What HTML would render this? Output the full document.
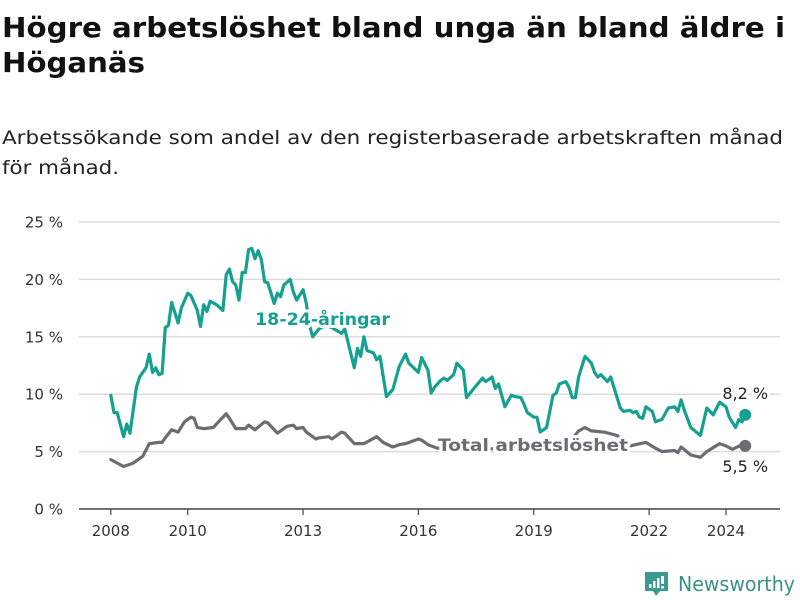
<!DOCTYPE html>
<html><head><meta charset="utf-8"><style>
html,body{margin:0;padding:0;background:#fff;}
svg{display:block;font-family:"DejaVu Sans","Liberation Sans",sans-serif;}
.lbl{paint-order:stroke;stroke:#fff;stroke-width:6px;stroke-linejoin:round;}
</style></head><body>
<svg id="chart" width="800" height="600" viewBox="0 0 800 600">
<text x="2" y="37" font-size="28" font-weight="bold" fill="#111" textLength="783" lengthAdjust="spacingAndGlyphs">Högre arbetslöshet bland unga än bland äldre i</text>
<text x="2" y="72" font-size="28" font-weight="bold" fill="#111" textLength="143" lengthAdjust="spacingAndGlyphs">Höganäs</text>
<text x="2" y="144" font-size="19" fill="#222" textLength="781" lengthAdjust="spacingAndGlyphs">Arbetssökande som andel av den registerbaserade arbetskraften månad</text>
<text x="2" y="174" font-size="19" fill="#222" textLength="117" lengthAdjust="spacingAndGlyphs">för månad.</text>
<g id="grid"></g>
<g id="yticks"></g>
<g id="xticks"></g>
<g id="series"></g>
<g id="labels"></g>
<g>
<path d="M645,572 h23 v19 h-8 l-4,5 l-3,-5 h-8 z" fill="#3a9a8f"/>
<rect x="649" y="584" width="2.5" height="4" fill="#fff"/>
<rect x="653" y="581" width="2.5" height="7" fill="#fff"/>
<rect x="657" y="578" width="2.5" height="10" fill="#fff"/>
<rect x="661" y="576" width="3" height="8" fill="#fff"/>
<rect x="661" y="586" width="3" height="2.5" fill="#fff"/>
<text x="678" y="591" font-size="20" fill="#3a8f86" textLength="117" lengthAdjust="spacingAndGlyphs">Newsworthy</text>
</g>
</svg>
<script>
const yTicks = [0, 5, 10, 15, 20, 25];
const xTickYears = [2008, 2010, 2013, 2016, 2019, 2022, 2024];
// month index from Jan 2008
const youthMonths = [0,1,2,4,5,6,8,9,11,12,13,14,15,16,17,18,19,20,21,22,24,25,27,28,29,30,31,33,35,36,37,38,39,40,41,42,43,44,45,46,47,48,49,51,52,53,54,56,57,58,60,61,62,63,65,67,69,72,73,76,77,78,79,80,82,83,84,86,88,90,92,93,96,97,99,100,101,103,104,105,107,108,110,111,113,116,117,119,120,121,123,125,126,128,129,130,132,133,134,136,138,139,140,142,143,144,145,146,148,150,151,152,153,155,156,159,160,162,163,164,165,166,167,169,170,172,174,176,177,178,179,181,184,186,188,190,192,193,195,196,197,198];
const youthValues = [9.9,8.4,8.4,6.3,7.4,6.6,10.6,11.5,12.3,13.5,11.9,12.3,11.7,11.8,15.8,16.0,18.0,17.1,16.2,17.5,18.8,18.6,17.3,15.9,17.8,17.2,18.1,17.8,17.3,20.4,20.9,19.8,19.5,18.2,20.6,20.6,22.6,22.7,21.8,22.5,21.7,19.8,19.7,17.9,18.8,18.5,19.5,20.0,18.9,18.2,19.1,17.9,16.0,15.0,15.7,16.0,15.8,15.3,15.7,12.3,14.0,13.3,15.0,13.8,13.6,13.0,13.3,9.8,10.4,12.4,13.5,12.7,11.9,13.2,12.1,10.1,10.6,11.2,11.4,11.2,11.7,12.7,12.1,9.7,10.4,11.4,11.1,11.5,10.5,10.9,8.9,9.9,9.8,9.7,9.1,8.4,8.0,8.0,6.7,7.1,9.9,10.1,10.9,11.1,10.6,9.7,9.7,11.5,13.3,12.7,11.9,11.5,11.7,11.1,11.5,8.8,8.5,8.6,8.4,8.5,8.0,7.9,8.9,8.5,7.6,7.8,8.8,8.9,8.5,9.5,8.6,7.1,6.4,8.8,8.2,9.3,8.9,8.0,7.1,7.8,7.6,8.2];
const totalMonths = [0,4,7,10,12,15,16,17,19,21,23,25,26,27,29,32,33,36,37,39,42,43,45,48,49,52,54,55,57,58,60,61,64,65,68,69,72,73,76,79,83,85,88,90,92,96,97,99,102,106,110,116,122,128,134,140,144,146,148,150,154,158,160,162,167,170,172,176,177,178,181,184,186,190,192,194,197,198];
const totalValues = [4.3,3.7,4.0,4.6,5.7,5.8,5.8,6.2,6.9,6.7,7.6,8.0,7.9,7.1,7.0,7.1,7.4,8.3,7.9,7.0,7.0,7.3,6.9,7.6,7.5,6.6,7.0,7.2,7.3,7.0,7.1,6.7,6.1,6.2,6.3,6.1,6.7,6.6,5.7,5.7,6.3,5.8,5.4,5.6,5.7,6.1,6.0,5.6,5.3,5.3,5.5,5.2,5.3,5.1,5.3,5.5,6.1,6.8,7.1,6.8,6.7,6.4,6.0,5.5,5.8,5.3,5.0,5.1,4.9,5.4,4.7,4.5,5.0,5.7,5.5,5.2,5.6,5.5];

const NS = 'http://www.w3.org/2000/svg';
const X0 = 110.8, PX_PER_MONTH = 38.45 / 12;
const Y0 = 509, PX_PER_PCT = 11.48;
function xScale(m){ return X0 + m * PX_PER_MONTH; }
function xYear(y){ return xScale((y - 2008) * 12); }
function yScale(v){ return Y0 - v * PX_PER_PCT; }
function mk(tag, attrs, parent){ const e = document.createElementNS(NS, tag); for (const k in attrs) e.setAttribute(k, attrs[k]); parent.appendChild(e); return e; }
function fmt(v){ return v.toFixed(1).replace('.', ','); }

const grid = document.getElementById('grid'), yt = document.getElementById('yticks'), xt = document.getElementById('xticks');
yTicks.forEach(t => {
  if (t > 0) {
    const l = mk('line', {x1: 79, x2: 780, y1: yScale(t), y2: yScale(t), stroke: '#dcdcdc', 'stroke-width': 1.5}, grid);
    
    
  }
  const tx = mk('text', {x: 63, y: yScale(t) + 5.5, 'text-anchor': 'end', 'font-size': 15, fill: '#333'}, yt);
  tx.textContent = t + ' %';
  
  
});
const axis = mk('line', {x1: 79, x2: 780, y1: Y0, y2: Y0, stroke: '#444', 'stroke-width': 1.5}, xt);


xTickYears.forEach(y => {
  const x = xYear(y);
  const tk = mk('line', {x1: x, x2: x, y1: Y0, y2: Y0 + 6, stroke: '#444', 'stroke-width': 1.2}, xt);
  
  
  const tx = mk('text', {x: x, y: 536, 'text-anchor': 'middle', 'font-size': 15, fill: '#333'}, xt);
  tx.textContent = y;
  
  
});

const ser = document.getElementById('series');
function drawLine(ms, vs, color, name){
  const d = ms.map((m, i) => (i ? 'L' : 'M') + xScale(m).toFixed(1) + ',' + yScale(vs[i]).toFixed(1)).join('');
  const p = mk('path', {d: d, fill: 'none', stroke: color, 'stroke-width': 3.2, 'stroke-linejoin': 'round', 'stroke-linecap': 'round'}, ser);
  
  
  const n = ms.length - 1;
  const c = mk('circle', {cx: xScale(ms[n]), cy: yScale(vs[n]), r: 6, fill: color}, ser);
  
  
}
const TEAL = '#16a090', GRAY = '#6d6c72';
drawLine(totalMonths, totalValues, GRAY, 'total');
drawLine(youthMonths, youthValues, TEAL, 'youth');

const lab = document.getElementById('labels');
const l1 = mk('text', {x: 255, y: 325, 'font-size': 17, 'font-weight': 'bold', fill: TEAL, class: 'lbl', textLength: 135, lengthAdjust: 'spacingAndGlyphs'}, lab);
l1.textContent = '18-24-åringar';


const l2 = mk('text', {x: 438, y: 451, 'font-size': 17, 'font-weight': 'bold', fill: '#6d6c72', class: 'lbl', textLength: 190, lengthAdjust: 'spacingAndGlyphs'}, lab);
l2.textContent = 'Total arbetslöshet';


const yl = youthValues[youthValues.length - 1], tl = totalValues[totalValues.length - 1];
const xe = xScale(youthMonths[youthMonths.length - 1]);
const v1 = mk('text', {x: xe, y: yScale(yl) - 16, 'text-anchor': 'middle', 'font-size': 16, fill: '#222', class: 'lbl'}, lab);
v1.textContent = fmt(yl) + ' %';


const v2 = mk('text', {x: xe, y: yScale(tl) + 26, 'text-anchor': 'middle', 'font-size': 16, fill: '#222', class: 'lbl'}, lab);
v2.textContent = fmt(tl) + ' %';


</script>
</body></html>
